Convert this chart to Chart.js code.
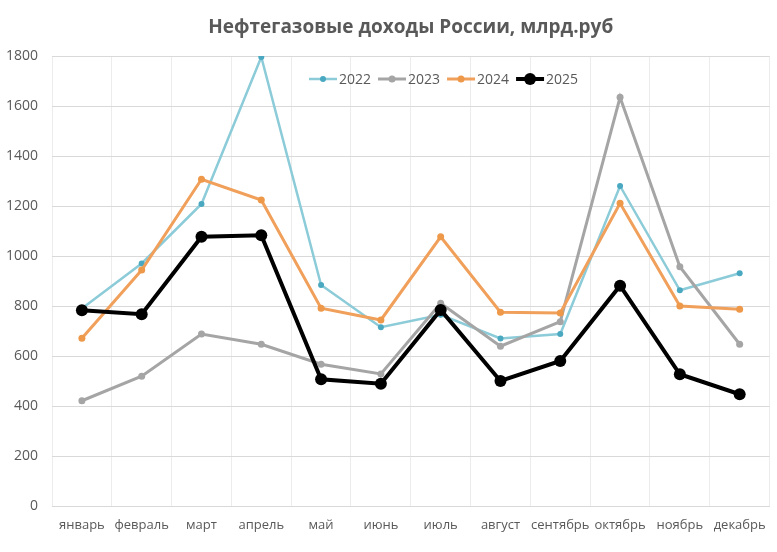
<!DOCTYPE html>
<html>
<head>
<meta charset="utf-8">
<script src="https://cdn.jsdelivr.net/npm/chart.js@4"></script>
<style>
  html, body { margin: 0; padding: 0; background: #fff; }
  #wrap { width: 777px; height: 552px; }
</style>
</head>
<body>
<div id="wrap"><canvas id="chart" width="777" height="552"></canvas></div>
<script>
// chart data
const months = ['январь', 'февраль', 'март', 'апрель', 'май', 'июнь', 'июль', 'август', 'сентябрь', 'октябрь', 'ноябрь', 'декабрь'];
const yearLabels = ['2022', '2023', '2024', '2025'];
const values2022 = [790, 970, 1208, 1796, 884, 715, 765, 670, 688, 1280, 863, 931];
const values2023 = [421, 519, 688, 647, 567, 528, 811, 639, 737, 1635, 957, 647];
const values2024 = [671, 944, 1307, 1224, 791, 744, 1077, 775, 772, 1211, 800, 787];
const values2025 = [783, 767, 1077, 1083, 507, 489, 784, 500, 580, 881, 527, 447];
const yTicks = [0, 200, 400, 600, 800, 1000, 1200, 1400, 1600, 1800];

const textColor = '#595959';
const fontFamily = '"Open Sans", "Noto Sans", sans-serif';

// legend drawn inside the plot area, like the Excel original
const innerLegend = {
  id: 'innerLegend',
  afterDatasetsDraw(chart) {
    const ctx = chart.ctx;
    const area = chart.chartArea;
    let x = area.left + 257;
    const y = 79;
    ctx.save();
    ctx.font = '14px ' + fontFamily;
    ctx.textBaseline = 'middle';
    chart.data.datasets.forEach(ds => {
      ctx.strokeStyle = ds.borderColor;
      ctx.lineWidth = ds.borderWidth;
      ctx.beginPath();
      ctx.moveTo(x, y);
      ctx.lineTo(x + 28, y);
      ctx.stroke();
      ctx.fillStyle = ds.pointBackgroundColor;
      ctx.beginPath();
      ctx.arc(x + 14, y, ds.pointRadius, 0, Math.PI * 2);
      ctx.fill();
      ctx.fillStyle = textColor;
      ctx.fillText(ds.label, x + 30, y + 1);
      x += 30 + ctx.measureText(ds.label).width + 7;
    });
    ctx.restore();
  }
};

function series(label, data, line, point, width, radius, order) {
  return {
    label,
    data,
    borderColor: line,
    backgroundColor: point,
    pointBackgroundColor: point,
    pointBorderColor: point,
    borderWidth: width,
    pointRadius: radius,
    pointBorderWidth: 0,
    tension: 0,
    order
  };
}

new Chart(document.getElementById('chart'), {
  type: 'line',
  data: {
    labels: months,
    datasets: [
      series(yearLabels[0], values2022, '#8ccbd8', '#4aa8c0', 2.5, 3, 3),
      series(yearLabels[1], values2023, '#a5a5a5', '#a5a5a5', 3, 3.5, 2),
      series(yearLabels[2], values2024, '#f0a05a', '#ee984a', 3, 3.5, 1),
      series(yearLabels[3], values2025, '#000000', '#000000', 4, 6, 0)
    ]
  },
  plugins: [innerLegend],
  options: {
    responsive: false,
    animation: false,
    layout: { padding: { left: 0, right: 7, top: 0, bottom: 0 } },
    plugins: {
      legend: { display: false },
      tooltip: { enabled: false },
      title: {
        display: true,
        text: 'Нефтегазовые доходы России, млрд.руб',
        color: textColor,
        fullSize: false,
        font: { family: fontFamily, size: 19, weight: 'bold', lineHeight: 1.2 },
        padding: { top: 16, bottom: 17.2 }
      }
    },
    scales: {
      x: {
        offset: true,
        grid: { offset: true, color: '#ececec', drawTicks: false },
        border: { color: '#d9d9d9', width: 1 },
        ticks: { color: textColor, padding: 11, font: { family: fontFamily, size: 13 }, maxRotation: 0, autoSkip: false },
        afterFit(scale) { scale.height = 46; }
      },
      y: {
        min: 0,
        max: 1800,
        afterBuildTicks(scale) { scale.ticks = yTicks.map(v => ({ value: v })); },
        grid: { color: '#d9d9d9', drawTicks: false },
        border: { display: false },
        ticks: { color: textColor, padding: 14, font: { family: fontFamily, size: 14 }, callback: v => String(v) },
        afterFit(scale) { scale.width = 52; }
      }
    }
  }
});
</script>
</body>
</html>
